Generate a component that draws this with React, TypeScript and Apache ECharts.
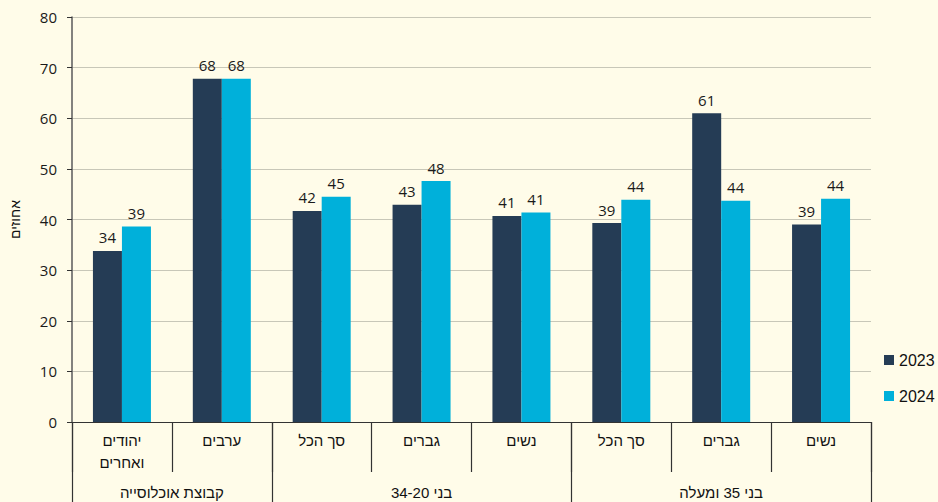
import React, { useEffect, useRef } from "react";
import * as echarts from "echarts";

const categories = ["יהודים\nואחרים", "ערבים", "סך הכל", "גברים", "נשים", "סך הכל", "גברים", "נשים"];
const groups = ["קבוצת אוכלוסייה", "בני 34-20", "בני 35 ומעלה"];
const groupBoundaries = [0, 2, 5, 8];
const groupCenters = [1, 3.5, 6.5];
const values2023 = [33.8, 67.8, 41.7, 42.9, 40.7, 39.3, 61.0, 39.0];
const values2024 = [38.6, 67.8, 44.5, 47.6, 41.4, 43.9, 43.7, 44.1];
const yTicks = { min: 0, max: 80, interval: 10 };

const BG = "#fffce9";
const NUM_FONT = "'Open Sans', 'Noto Sans', sans-serif";
const HEB_FONT = "'Liberation Sans', Arial, sans-serif";

export default function App() {
  const ref = useRef<HTMLDivElement>(null);
  useEffect(() => {
    if (!ref.current) return;
    const chart = echarts.init(ref.current, undefined, { renderer: "svg" });
    const labelStyle = {
      show: true,
      position: "top" as const,
      distance: 6,
      fontSize: 15,
      color: "#1a1a1a",
      fontFamily: NUM_FONT,
      formatter: (p: any) => String(Math.round(p.value)),
    };
    chart.setOption({
      animation: false,
      backgroundColor: BG,
      grid: { left: 71, right: 67, top: 17, bottom: 80, containLabel: false },
      legend: {
        orient: "vertical",
        left: 884,
        top: 352,
        itemWidth: 10,
        itemHeight: 10,
        itemGap: 20,
        padding: 0,
        icon: "rect",
        textStyle: { fontSize: 16, color: "#111", fontFamily: HEB_FONT },
        data: ["2023", "2024"],
      },
      xAxis: [
        {
          type: "category",
          position: "bottom",
          data: categories,
          axisLine: { show: true, lineStyle: { color: "#333", width: 1 } },
          axisTick: { show: true, interval: 0, length: 50, lineStyle: { color: "#333", width: 1.2 } },
          axisLabel: {
            interval: 0,
            fontSize: 15,
            lineHeight: 22,
            margin: 7,
            color: "#111",
            fontFamily: HEB_FONT,
          },
          splitLine: { show: false },
        },
        {
          type: "value",
          position: "bottom",
          min: 0,
          max: 8,
          axisLine: { show: false },
          axisTick: {
            show: true,
            customValues: groupBoundaries,
            length: 80,
            lineStyle: { color: "#333", width: 1.2 },
          },
          axisLabel: {
            show: true,
            customValues: groupCenters,
            margin: 60,
            fontSize: 15,
            lineHeight: 20,
            color: "#111",
            fontFamily: HEB_FONT,
            formatter: (v: number) => {
              const i = groupCenters.indexOf(v);
              return i >= 0 ? groups[i] : "";
            },
          },
          splitLine: { show: false },
        },
      ],
      yAxis: {
        type: "value",
        min: yTicks.min,
        max: yTicks.max,
        interval: yTicks.interval,
        name: "אחוזים",
        nameLocation: "middle",
        nameGap: 50,
        nameRotate: 90,
        nameTextStyle: { fontSize: 14, color: "#111", fontFamily: HEB_FONT },
        axisLine: { show: true, lineStyle: { color: "#5a5a5a", width: 1.5 } },
        axisTick: { show: true, length: 5, lineStyle: { color: "#333" } },
        axisLabel: { fontSize: 15, color: "#1a1a1a", margin: 15, fontFamily: NUM_FONT },
        splitLine: { show: true, lineStyle: { color: "#c8c7b8", width: 1 } },
      },
      series: [
        {
          name: "2023",
          type: "bar",
          data: values2023,
          barWidth: 29,
          barGap: "0%",
          itemStyle: { color: "#253c55" },
          label: labelStyle,
        },
        {
          name: "2024",
          type: "bar",
          data: values2024,
          barWidth: 29,
          barGap: "0%",
          itemStyle: { color: "#00b0da" },
          label: labelStyle,
        },
      ],
    });
    return () => chart.dispose();
  }, []);
  return (
    <div
      ref={ref}
      style={{ position: "absolute", left: 0, top: 0, width: 938, height: 502, background: BG }}
    />
  );
}
